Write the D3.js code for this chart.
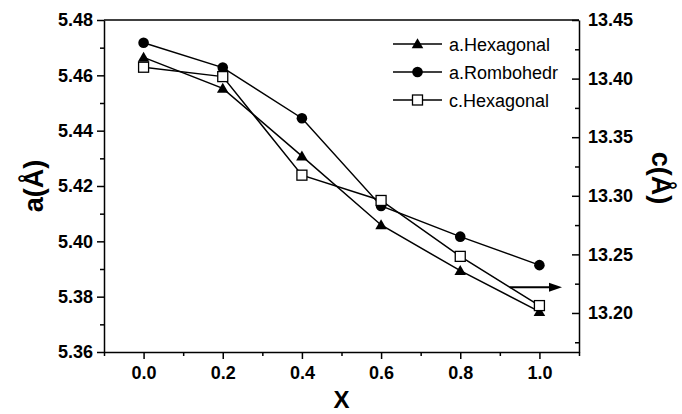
<!DOCTYPE html>
<html>
<head>
<meta charset="utf-8">
<script src="https://cdn.jsdelivr.net/npm/d3@7"></script>
<style>
  body { margin: 0; background: #fff; }
  svg { display: block; font-family: "Liberation Sans", Arial, sans-serif; }
  .axis path, .axis line { stroke: #000; stroke-width: 1.5; }
  .axis text { font-size: 18px; font-weight: bold; fill: #000; }
</style>
</head>
<body>
<div id="chart"></div>
<script>
// composition x
const xValues = [0.0, 0.2, 0.4, 0.6, 0.8, 1.0];
// lattice parameters
const aHexagonal = [5.4665, 5.4553, 5.4308, 5.4059, 5.3894, 5.3746];
const aRombohedr = [5.4718, 5.4628, 5.4445, 5.4128, 5.4017, 5.3914];
const cHexagonal = [13.4097, 13.4017, 13.3176, 13.2960, 13.2483, 13.2063];

const seriesNames = ["a.Hexagonal", "a.Rombohedr", "c.Hexagonal"];
const xTicks = [0.0, 0.2, 0.4, 0.6, 0.8, 1.0];
const xMinorTicks = [-0.1, 0.1, 0.3, 0.5, 0.7, 0.9, 1.1];
const leftTicks = [5.36, 5.38, 5.40, 5.42, 5.44, 5.46, 5.48];
const leftMinorTicks = [5.37, 5.39, 5.41, 5.43, 5.45, 5.47];
const rightTicks = [13.20, 13.25, 13.30, 13.35, 13.40, 13.45];
const rightMinorTicks = [13.175, 13.225, 13.275, 13.325, 13.375, 13.425];

const width = 682, height = 414;
const margin = { top: 20, right: 103, bottom: 62, left: 104 };

const svg = d3.select("#chart").append("svg")
    .attr("width", width)
    .attr("height", height);

const x = d3.scaleLinear().domain([-0.1, 1.1]).range([margin.left, width - margin.right]);
const yLeft = d3.scaleLinear().domain([5.36, 5.48]).range([height - margin.bottom, margin.top]);
const yRight = d3.scaleLinear().domain([13.45 - 0.2833, 13.45]).range([height - margin.bottom, margin.top]);

const x0 = margin.left, x1 = width - margin.right;
const y0 = height - margin.bottom, y1 = margin.top;

// top frame line
svg.append("line")
    .attr("x1", x0).attr("x2", x1).attr("y1", y1).attr("y2", y1)
    .attr("stroke", "#000").attr("stroke-width", 1.5);

// bottom axis
svg.append("g").attr("class", "axis")
    .attr("transform", `translate(0,${y0})`)
    .call(d3.axisBottom(x).tickValues(xTicks).tickFormat(d3.format(".1f"))
        .tickSize(7).tickSizeOuter(0).tickPadding(7));
svg.append("g").attr("class", "axis")
    .attr("transform", `translate(0,${y0})`)
    .call(d3.axisBottom(x).tickValues(xMinorTicks).tickFormat("")
        .tickSize(4).tickSizeOuter(0))
    .select(".domain").remove();

// left axis
svg.append("g").attr("class", "axis")
    .attr("transform", `translate(${x0},0)`)
    .call(d3.axisLeft(yLeft).tickValues(leftTicks).tickFormat(d3.format(".2f"))
        .tickSize(7).tickSizeOuter(0).tickPadding(4));
svg.append("g").attr("class", "axis")
    .attr("transform", `translate(${x0},0)`)
    .call(d3.axisLeft(yLeft).tickValues(leftMinorTicks).tickFormat("")
        .tickSize(4).tickSizeOuter(0))
    .select(".domain").remove();

// right axis (ticks pointing inward)
svg.append("g").attr("class", "axis")
    .attr("transform", `translate(${x1},0)`)
    .call(d3.axisRight(yRight).tickValues(rightTicks).tickFormat(d3.format(".2f"))
        .tickSizeInner(-7).tickSizeOuter(0).tickPadding(9));
svg.append("g").attr("class", "axis")
    .attr("transform", `translate(${x1},0)`)
    .call(d3.axisRight(yRight).tickValues(rightMinorTicks).tickFormat("")
        .tickSizeInner(-4).tickSizeOuter(0))
    .select(".domain").remove();

// axis titles
svg.append("text")
    .attr("x", (x0 + x1) / 2).attr("y", 408)
    .attr("text-anchor", "middle")
    .style("font-size", "24px").style("font-weight", "bold")
    .text("X");

svg.append("text")
    .attr("transform", `translate(43,${(y0 + y1) / 2}) rotate(-90)`)
    .attr("text-anchor", "middle")
    .style("font-size", "27px").style("font-weight", "bold")
    .text("a(Å)");

svg.append("text")
    .attr("transform", `translate(652,178) rotate(90)`)
    .attr("text-anchor", "middle")
    .style("font-size", "27px").style("font-weight", "bold")
    .text("c(Å)");

// lines
const lineLeft = d3.line().x((d, i) => x(xValues[i])).y(d => yLeft(d));
const lineRight = d3.line().x((d, i) => x(xValues[i])).y(d => yRight(d));

svg.append("path").datum(aHexagonal).attr("d", lineLeft)
    .attr("fill", "none").attr("stroke", "#000").attr("stroke-width", 1.5);
svg.append("path").datum(aRombohedr).attr("d", lineLeft)
    .attr("fill", "none").attr("stroke", "#000").attr("stroke-width", 1.5);
svg.append("path").datum(cHexagonal).attr("d", lineRight)
    .attr("fill", "none").attr("stroke", "#000").attr("stroke-width", 1.5);

// markers
const triangle = d3.symbol().type(d3.symbolTriangle).size(58);

function drawTriangle(g, cx, cy) {
    g.append("path").attr("d", triangle())
        .attr("transform", `translate(${cx},${cy + 1})`)
        .attr("fill", "#000");
}
function drawCircle(g, cx, cy) {
    g.append("circle").attr("cx", cx).attr("cy", cy).attr("r", 5.3).attr("fill", "#000");
}
function drawSquare(g, cx, cy) {
    g.append("rect").attr("x", cx - 5).attr("y", cy - 5)
        .attr("width", 10).attr("height", 10)
        .attr("fill", "#fff").attr("stroke", "#000").attr("stroke-width", 1.3);
}

const marks = svg.append("g");
aHexagonal.forEach((v, i) => drawTriangle(marks, x(xValues[i]), yLeft(v)));
aRombohedr.forEach((v, i) => drawCircle(marks, x(xValues[i]), yLeft(v)));
cHexagonal.forEach((v, i) => drawSquare(marks, x(xValues[i]), yRight(v)));

// arrow pointing to the right axis
const arrowFrom = [0.925, 13.222], arrowTo = [1.057, 13.222];
const ax1 = x(arrowFrom[0]), ax2 = x(arrowTo[0]), ay = yRight(arrowFrom[1]);
svg.append("line")
    .attr("x1", ax1).attr("x2", ax2 - 10).attr("y1", ay).attr("y2", ay)
    .attr("stroke", "#000").attr("stroke-width", 2);
svg.append("path")
    .attr("d", `M${ax2},${ay} L${ax2 - 13},${ay - 4.5} L${ax2 - 13},${ay + 4.5} Z`)
    .attr("fill", "#000");

// legend
const legend = svg.append("g").attr("transform", "translate(393,44)");
const drawers = [drawTriangle, drawCircle, drawSquare];
seriesNames.forEach((name, i) => {
    const row = legend.append("g").attr("transform", `translate(0,${i * 28})`);
    row.append("line").attr("x1", 0).attr("x2", 49).attr("y1", 0).attr("y2", 0)
        .attr("stroke", "#000").attr("stroke-width", 1.5);
    drawers[i](row, 24.5, 0);
    row.append("text").attr("x", 56).attr("y", 6.5)
        .style("font-size", "18px")
        .text(name);
});
</script>
</body>
</html>
